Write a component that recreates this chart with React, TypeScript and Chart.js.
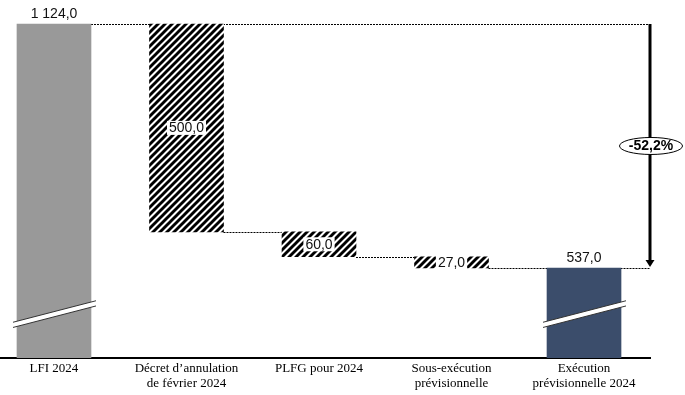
import React, { useEffect, useRef } from "react";
import { Chart, registerables } from "chart.js";

Chart.register(...registerables);

// ---- Data ----
const categories: string[][] = [
  ["LFI 2024"],
  ["Décret d’annulation", "de février 2024"],
  ["PLFG pour 2024"],
  ["Sous-exécution", "prévisionnelle"],
  ["Exécution", "prévisionnelle 2024"],
];
const startValue = 1124.0;
const decreases = [500.0, 60.0, 27.0];
const endValue = 537.0;
const valueLabels = ["1 124,0", "500,0", "60,0", "27,0", "537,0"];
const changeLabel = "-52,2%";
// broken axis range
const axisMin = 320.4;
const axisMax = 1181.7;
const breakValue = 426;

// ---- Styles ----
const grey = "#999999";
const navy = "#3b4d6b";

function makeHatch(): CanvasPattern | string {
  const c = document.createElement("canvas");
  const s = 7;
  c.width = s;
  c.height = s;
  const g = c.getContext("2d");
  if (!g) return "#000";
  g.fillStyle = "#ffffff";
  g.fillRect(0, 0, s, s);
  g.strokeStyle = "#000000";
  g.lineWidth = 2.9;
  g.lineCap = "square";
  g.beginPath();
  g.moveTo(-1, 1);
  g.lineTo(1, -1);
  g.moveTo(0, s);
  g.lineTo(s, 0);
  g.moveTo(s - 1, s + 1);
  g.lineTo(s + 1, s - 1);
  g.stroke();
  const p = g.createPattern(c, "repeat");
  return p || "#000";
}

export default function App() {
  const ref = useRef<HTMLCanvasElement | null>(null);

  useEffect(() => {
    if (!ref.current) return;
    const hatch = makeHatch();

    // build floating ranges
    const ranges: [number, number][] = [];
    ranges.push([0, startValue]);
    let level = startValue;
    for (const d of decreases) {
      ranges.push([level - d, level]);
      level -= d;
    }
    ranges.push([0, endValue]);
    const levels: number[] = [startValue];
    let l2 = startValue;
    for (const d of decreases) {
      l2 -= d;
      levels.push(l2);
    }

    const colors = [grey, hatch, hatch, hatch, navy];

    const decor = {
      id: "decor",
      beforeDatasetsDraw(chart: any) {
        const ctx = chart.ctx;
        const y = chart.scales.y;
        const bars = chart.getDatasetMeta(0).data;
        const ax = chart.chartArea.right;
        ctx.save();
        ctx.strokeStyle = "#000";
        ctx.lineWidth = 1;
        ctx.setLineDash([2, 1]);
        for (let i = 0; i < levels.length; i++) {
          const py = Math.round(y.getPixelForValue(levels[i])) + 0.5;
          const x1 = bars[i].x + bars[i].width / 2;
          const x2 = i === 0 || i === levels.length - 1 ? ax : bars[i + 1].x - bars[i + 1].width / 2;
          ctx.beginPath();
          ctx.moveTo(x1, py);
          ctx.lineTo(x2, py);
          ctx.stroke();
        }
        ctx.restore();
      },
      afterDatasetsDraw(chart: any) {
        const ctx = chart.ctx;
        const y = chart.scales.y;
        const bars = chart.getDatasetMeta(0).data;
        ctx.save();
        // break marks
        for (const i of [0, bars.length - 1]) {
          const b = bars[i];
          const cy = y.getPixelForValue(breakValue);
          const x1 = b.x - 41;
          const x2 = b.x + 42;
          const half = 10.75;
          const t = 2.6;
          ctx.beginPath();
          ctx.moveTo(x1, cy + half - t);
          ctx.lineTo(x2, cy - half - t);
          ctx.lineTo(x2, cy - half + t);
          ctx.lineTo(x1, cy + half + t);
          ctx.closePath();
          ctx.fillStyle = "#ffffff";
          ctx.fill();
          ctx.strokeStyle = "#333";
          ctx.lineWidth = 1;
          ctx.beginPath();
          ctx.moveTo(x1, cy + half - t);
          ctx.lineTo(x2, cy - half - t);
          ctx.moveTo(x1, cy + half + t);
          ctx.lineTo(x2, cy - half + t);
          ctx.stroke();
        }
        // value labels
        ctx.font = "14px 'Liberation Sans', Arial, sans-serif";
        ctx.textAlign = "center";
        for (let i = 0; i < bars.length; i++) {
          const b = bars[i];
          const txt = valueLabels[i];
          if (i === 0 || i === bars.length - 1) {
            ctx.fillStyle = "#111";
            ctx.textBaseline = "alphabetic";
            ctx.fillText(txt, b.x, b.y - 6);
          } else {
            const cy = (b.y + b.base) / 2;
            const w = ctx.measureText(txt).width + 4;
            ctx.fillStyle = "#ffffff";
            ctx.fillRect(b.x - w / 2, cy - 7, w, 14);
            ctx.fillStyle = "#111";
            ctx.textBaseline = "middle";
            ctx.fillText(txt, b.x, cy + 0.5);
          }
        }
        // arrow
        const ax = chart.chartArea.right;
        const y1 = y.getPixelForValue(startValue);
        const y2 = y.getPixelForValue(endValue);
        ctx.strokeStyle = "#000";
        ctx.lineWidth = 3;
        ctx.beginPath();
        ctx.moveTo(ax, y1);
        ctx.lineTo(ax, y2 - 7);
        ctx.stroke();
        ctx.fillStyle = "#000";
        ctx.beginPath();
        ctx.moveTo(ax - 4.5, y2 - 8);
        ctx.lineTo(ax + 4.5, y2 - 8);
        ctx.lineTo(ax, y2 - 1);
        ctx.closePath();
        ctx.fill();
        // ellipse label
        const cy = (y1 + y2) / 2;
        ctx.beginPath();
        ctx.ellipse(ax + 1, cy, 31.5, 8.5, 0, 0, Math.PI * 2);
        ctx.fillStyle = "#fff";
        ctx.fill();
        ctx.lineWidth = 1;
        ctx.strokeStyle = "#000";
        ctx.stroke();
        ctx.fillStyle = "#000";
        ctx.font = "bold 14px 'Liberation Sans', Arial, sans-serif";
        ctx.textBaseline = "middle";
        ctx.fillText(changeLabel, ax + 1, cy + 0.5);
        ctx.restore();
      },
    };

    const chart = new Chart(ref.current, {
      type: "bar",
      data: {
        datasets: [
          {
            data: ranges.map((r, i) => ({ x: i, y: r })) as any,
            backgroundColor: colors as any,
            borderWidth: 0,
            barThickness: 74,
          },
        ],
      },
      options: {
        animation: false,
        responsive: false,
        devicePixelRatio: 1,
        layout: { padding: { left: 0, right: 35, top: 0, bottom: 0 } },
        plugins: {
          legend: { display: false },
          tooltip: { enabled: false },
        },
        scales: {
          x: {
            type: "linear",
            min: -0.4075,
            max: 4.498,
            offset: false,
            bounds: "data",
            z: 1,
            grid: { display: false, drawTicks: false, offset: false },
            border: { display: true, color: "#000", width: 2 },
            afterBuildTicks(scale: any) {
              scale.ticks = categories.map((_, i) => ({ value: i }));
            },
            afterFit(scale: any) {
              scale.height = 37;
            },
            ticks: {
              autoSkip: false,
              maxRotation: 0,
              padding: 3,
              color: "#000",
              font: { family: "'Liberation Serif', serif", size: 13, lineHeight: 1.15 },
              callback: (v: any) => {
                const i = Math.round(Number(v));
                return categories[i] ?? "";
              },
            },
          },
          y: {
            display: false,
            min: axisMin,
            max: axisMax,
          },
        },
      },
      plugins: [decor],
    });
    return () => chart.destroy();
  }, []);

  return (
    <div style={{ position: "fixed", left: 0, top: 0, width: 685, height: 395, background: "#fff" }}>
      <canvas ref={ref} width={685} height={395} />
    </div>
  );
}
